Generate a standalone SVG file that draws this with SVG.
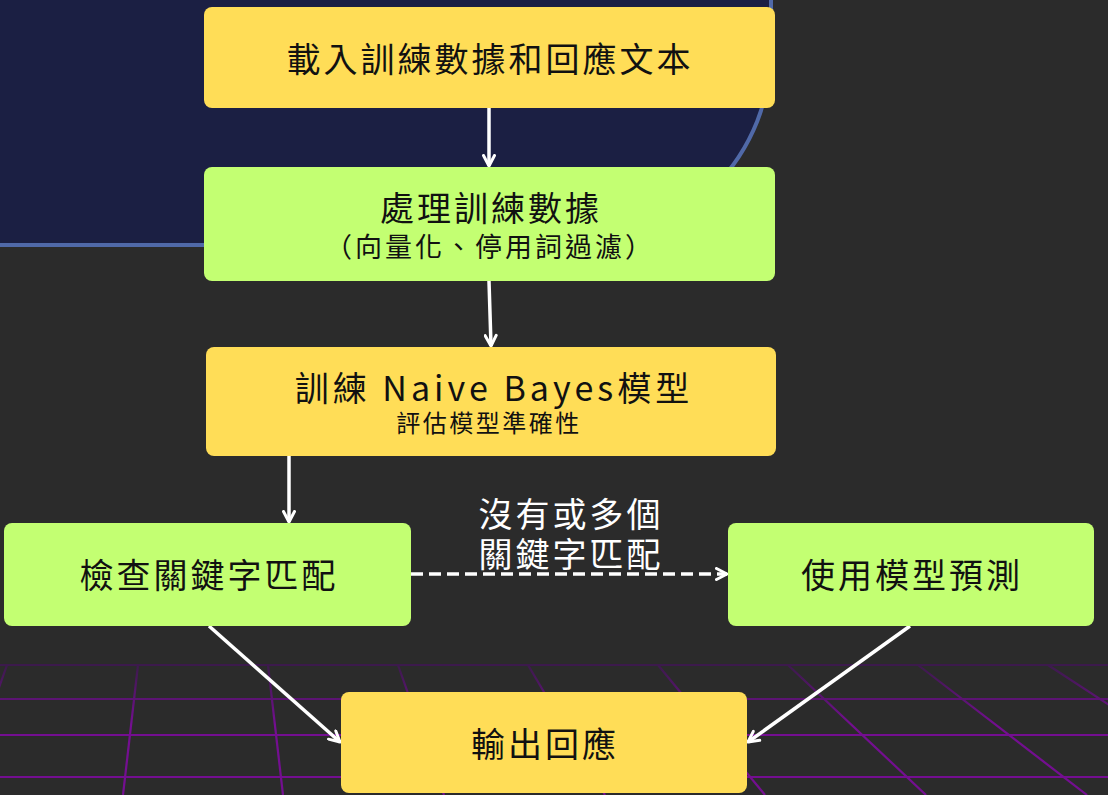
<svg xmlns="http://www.w3.org/2000/svg" width="1108" height="795" viewBox="0 0 1108 795">
<defs>
<linearGradient id="gridGrad" gradientUnits="userSpaceOnUse" x1="0" y1="665" x2="0" y2="725">
<stop offset="0" stop-color="#3c1a4c"/>
<stop offset="1" stop-color="#740e91"/>
</linearGradient>
<marker id="arr" viewBox="0 0 14 14" refX="12.5" refY="7" markerWidth="14" markerHeight="14" markerUnits="userSpaceOnUse" orient="auto">
<path d="M2,1.5 L12.5,7 L2,12.5" fill="none" stroke="#ffffff" stroke-width="3" stroke-linecap="round" stroke-linejoin="round"/>
</marker>
<style>
.bg{fill:#2b2b2b}
.grid line{stroke:url(#gridGrad);stroke-width:2.2}
.yellow{fill:#ffdd57}
.green{fill:#c3ff72}
.t{font-family:"Noto Sans CJK TC","Noto Sans",sans-serif;fill:#111111;text-anchor:middle;dominant-baseline:central;letter-spacing:3px}
.big{font-size:34px}
.mid{font-size:27px}
.small{font-size:24px;letter-spacing:2.5px}
.lat{letter-spacing:4px}
.lbl{fill:#ffffff}
.conn line{stroke:#ffffff;stroke-width:3.5;fill:none;marker-end:url(#arr)}
.dash{stroke-dasharray:12 6}
</style>
</defs>
<rect class="bg" x="0" y="0" width="1108" height="795"/>
<path d="M-10,-10 H771 V49 A196,196 0 0 1 575,245 H-10 Z" fill="#1b1f43" stroke="#5069a8" stroke-width="4"/>
<g class="grid">
<line x1="0" y1="665" x2="1108" y2="665"/>
<line x1="0" y1="699" x2="1108" y2="699"/>
<line x1="0" y1="735" x2="1108" y2="735"/>
<line x1="0" y1="777" x2="1108" y2="777"/>
<line x1="7" y1="665" x2="-39" y2="795"/>
<line x1="138" y1="665" x2="123" y2="795"/>
<line x1="268" y1="665" x2="283" y2="795"/>
<line x1="398" y1="665" x2="444" y2="795"/>
<line x1="528" y1="665" x2="605" y2="795"/>
<line x1="658" y1="665" x2="765" y2="795"/>
<line x1="788" y1="665" x2="926" y2="795"/>
<line x1="918" y1="665" x2="1087" y2="795"/>
<line x1="1048" y1="665" x2="1247" y2="795"/>
</g>
<g class="conn">
<line x1="489" y1="108" x2="489" y2="166"/>
<line x1="489" y1="281" x2="491" y2="346"/>
<line x1="289" y1="456" x2="289" y2="522"/>
<line class="dash" x1="411" y1="574" x2="727" y2="574"/>
<line x1="209" y1="626" x2="340" y2="742"/>
<line x1="910" y1="626" x2="748" y2="742"/>
<text class="t big lbl" x="571" y="512">沒有或多個</text>
<text class="t big lbl" x="571" y="552">關鍵字匹配</text>
</g>
<g id="n1">
<rect class="yellow" x="204" y="7" width="571" height="101" rx="8"/>
<text class="t big" x="490" y="57">載入訓練數據和回應文本</text>
</g>
<g id="n2">
<rect class="green" x="204" y="167" width="571" height="114" rx="8"/>
<text class="t big" x="491" y="206">處理訓練數據</text>
<text class="t mid" x="490" y="245">（向量化、停用詞過濾）</text>
</g>
<g id="n3">
<rect class="yellow" x="206" y="347" width="570" height="109" rx="8"/>
<text class="t big lat" x="494" y="386">訓練 Naive Bayes模型</text>
<text class="t small" x="489" y="421">評估模型準確性</text>
</g>
<g id="n4">
<rect class="green" x="4" y="523" width="407" height="103" rx="8"/>
<text class="t big" x="209" y="573">檢查關鍵字匹配</text>
</g>
<g id="n5">
<rect class="green" x="728" y="523" width="366" height="103" rx="8"/>
<text class="t big" x="912" y="573">使用模型預測</text>
</g>
<g id="n6">
<rect class="yellow" x="341" y="692" width="406" height="101" rx="8"/>
<text class="t big" x="545" y="742">輸出回應</text>
</g>
</svg>
